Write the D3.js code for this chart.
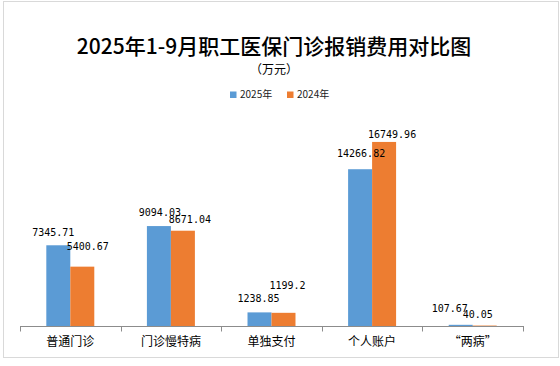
<!DOCTYPE html>
<html><head><meta charset="utf-8">
<script src="https://cdn.jsdelivr.net/npm/d3@7"></script>
<style>body{margin:0;background:#fff}svg{display:block}</style>
</head><body>
<script>
const categories = ["普通门诊", "门诊慢特病", "单独支付", "个人账户", "“两病”"];
const seriesNames = ["2025年", "2024年"];
const values2025 = [7345.71, 9094.03, 1238.85, 14266.82, 107.67];
const values2024 = [5400.67, 8671.04, 1199.2, 16749.96, 40.05];
const labels2025 = ["7345.71", "9094.03", "1238.85", "14266.82", "107.67"];
const labels2024 = ["5400.67", "8671.04", "1199.2", "16749.96", "40.05"];
const colors = ["#5B9BD5", "#ED7D31"];
// label nudges (dx, dy from bar top) to mirror the reference placement
const nudge2025 = [[-5,-13],[1,-14],[-1,-14],[1,-16],[-11,-16]];
const nudge2024 = [[5.5,-20],[7,-11],[4,-27],[8,-8],[-7,-11]];

const W = 560, H = 366;
const svg = d3.select("body").append("svg").attr("width", W).attr("height", H);
svg.append("rect").attr("x",3.5).attr("y",1.5).attr("width",555).attr("height",356)
  .attr("fill","#fff").attr("stroke","#d9d9d9").attr("stroke-width",1);

const cjk = "'Noto Sans CJK SC', 'Noto Sans', sans-serif";
svg.append("text").attr("x",274).attr("y",54).attr("text-anchor","middle")
  .attr("font-family",cjk).attr("font-size",21).attr("font-weight",500).attr("fill","#000")
  .text("2025年1-9月职工医保门诊报销费用对比图");
const sub = svg.append("text").attr("y",74)
  .attr("font-family",cjk).attr("font-size",12).attr("fill","#000");
sub.append("tspan").attr("x",250).text("（");
sub.append("tspan").attr("x",262).text("万元");
sub.append("tspan").attr("x",286).text("）");

// legend
const legX = [230, 287];
seriesNames.forEach((s,i)=>{
  svg.append("rect").attr("x",legX[i]).attr("y",91.5).attr("width",6.5).attr("height",6.5).attr("fill",colors[i]);
  svg.append("text").attr("x",legX[i]+10).attr("y",98).attr("font-family",cjk).attr("font-size",10)
    .attr("fill","#222").text(s);
});

const x0 = d3.scaleBand().domain(categories).range([20,523]).paddingInner(0.523).paddingOuter(0.2615);
const x1 = d3.scaleBand().domain(seriesNames).range([0, x0.bandwidth()]);
const y = d3.scaleLinear().domain([0,18000]).range([326, 128.2]);

const data = [values2025, values2024];
const labs = [labels2025, labels2024];
const nudges = [nudge2025, nudge2024];

const barsG = svg.append("g"), labelsG = svg.append("g");
seriesNames.forEach((s,si)=>{
  barsG.append("g").selectAll("rect").data(categories).join("rect")
    .attr("x", (c)=>x0(c)+x1(s))
    .attr("width", x1.bandwidth())
    .attr("y", (c,i)=>y(data[si][i]))
    .attr("height", (c,i)=>y(0)-y(data[si][i]))
    .attr("fill", colors[si]);
  labelsG.append("g").selectAll("text").data(categories).join("text")
    .attr("x", (c,i)=>x0(c)+x1(s)+x1.bandwidth()/2+nudges[si][i][0])
    .attr("y", (c,i)=>y(data[si][i])+nudges[si][i][1])
    .attr("dy","0.36em")
    .attr("text-anchor","middle")
    .attr("font-family","'DejaVu Sans Mono', monospace").attr("font-size",10)
    .attr("fill","#000")
    .text((c,i)=>labs[si][i]);
});

// axis
const axisG = svg.append("g");
axisG.append("line").attr("x1",20).attr("x2",523).attr("y1",326.5).attr("y2",326.5)
  .attr("stroke","#8c8c8c").attr("stroke-width",1);
const step = x0.step();
d3.range(categories.length+1).forEach(i=>{
  const xx = Math.round(20 + i*step)+0.5;
  axisG.append("line").attr("x1",xx).attr("x2",xx).attr("y1",326).attr("y2",331.5)
    .attr("stroke","#8c8c8c").attr("stroke-width",1);
});
axisG.selectAll("text.cat").data(categories).join("text").attr("class","cat")
  .attr("x",c=>x0(c)+x0.bandwidth()/2).attr("y",346)
  .attr("text-anchor","middle").attr("font-family",cjk).attr("font-size",12).attr("fill","#000")
  .text(c=>c);
</script>
</body></html>
